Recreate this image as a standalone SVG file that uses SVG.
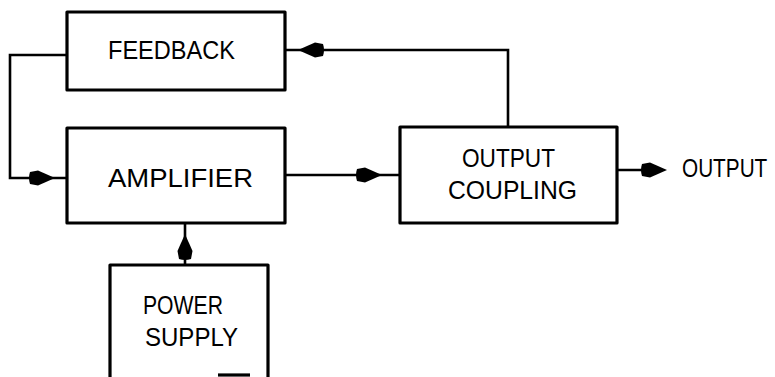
<svg xmlns="http://www.w3.org/2000/svg" xmlns:xlink="http://www.w3.org/1999/xlink" width="775" height="377" viewBox="0 0 775 377">
<style>
.box{fill:none;stroke:#000;stroke-width:3.2;stroke-linejoin:round}
.wire{fill:none;stroke:#000;stroke-width:2.6}
.lbl{font-family:"Liberation Sans",Arial,sans-serif;font-size:25px;fill:#000}
</style>
<defs>
<path id="ah" d="M0,0 L-17,-7.5 L-25,-6 Q-27,0 -25,6 L-17,7.5 Z" fill="#000"/>
</defs>
<rect width="775" height="377" fill="#fff"/>
<g id="feedback">
<rect class="box" x="67" y="12" width="218" height="78"/>
<text class="lbl" x="108" y="59" textLength="127" lengthAdjust="spacingAndGlyphs">FEEDBACK</text>
</g>
<g id="amplifier">
<rect class="box" x="67" y="128" width="218" height="95"/>
<text class="lbl" x="108" y="187" textLength="145" lengthAdjust="spacingAndGlyphs">AMPLIFIER</text>
</g>
<g id="output-coupling">
<rect class="box" x="400" y="127" width="217" height="96"/>
<text class="lbl" x="462" y="167" textLength="93" lengthAdjust="spacingAndGlyphs">OUTPUT</text>
<text class="lbl" x="448" y="199" textLength="129" lengthAdjust="spacingAndGlyphs">COUPLING</text>
</g>
<g id="power-supply">
<path class="box" d="M110,380 V265 H268 V380"/>
<path class="box" d="M218,375 H250"/>
<text class="lbl" x="143" y="314" textLength="80" lengthAdjust="spacingAndGlyphs">POWER</text>
<text class="lbl" x="145" y="346" textLength="93" lengthAdjust="spacingAndGlyphs">SUPPLY</text>
</g>
<g id="output-label">
<text class="lbl" transform="translate(682,177) scale(0.83,1)" x="0" y="0">OUTPUT</text>
</g>
<g id="connectors">
<path class="wire" d="M67,55 H10 V178 H67"/>
<use xlink:href="#ah" transform="translate(55,178)"/>
<path class="wire" d="M508,127 V50 H285"/>
<use xlink:href="#ah" transform="translate(298,50) rotate(180)"/>
<path class="wire" d="M285,175 H400"/>
<use xlink:href="#ah" transform="translate(382,175)"/>
<path class="wire" d="M617,170 H660"/>
<use xlink:href="#ah" transform="translate(667,170)"/>
<path class="wire" d="M185,265 V223"/>
<use xlink:href="#ah" transform="translate(185,234) rotate(-90)"/>
</g>
</svg>
